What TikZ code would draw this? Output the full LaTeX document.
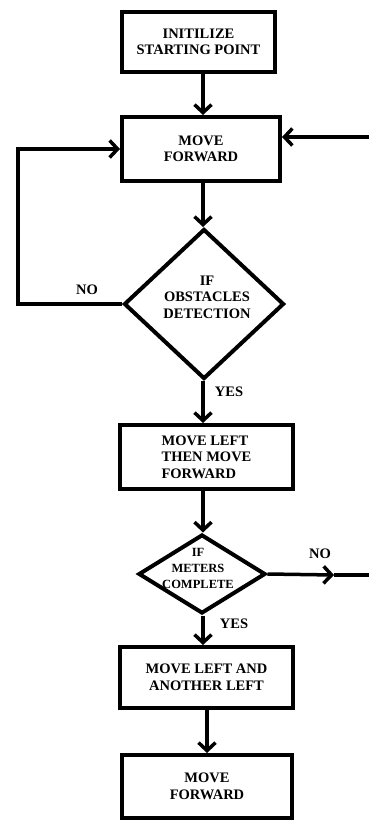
\documentclass[tikz,border=0pt]{standalone}
\usepackage{fontspec}
\setmainfont{Liberation Serif}
\usetikzlibrary{shapes.geometric,arrows.meta}
\tikzstyle{bx}=[draw, rectangle, line width=4pt, inner sep=0pt, align=center, font=\bfseries\fontsize{14.5}{16.5}\selectfont]
\tikzstyle{dc}=[draw, diamond, line width=4pt, inner sep=0pt]
\tikzstyle{tx}=[inner sep=0pt, align=center, font=\bfseries\fontsize{14.5}{16.5}\selectfont]
\tikzstyle{ln}=[line width=3.5pt]
\tikzstyle{ar}=[ln, -{Straight Barb[length=8pt,width=17pt]}]

\begin{document}
\begin{tikzpicture}[x=1pt, y=-1pt]
%%frame
\useasboundingbox (0,0) rectangle (369,821);
\coordinate (col) at (203,0);
%%boxes
\node[bx, minimum width=153, minimum height=60] (init) at (198.5,42) {INITILIZE\\STARTING POINT};
\node[bx, minimum width=158, minimum height=64] (fwd) at (201,149) {MOVE\\FORWARD};
\node[bx, minimum width=173, minimum height=64, align=left] (left) at (206.5,457) {MOVE LEFT\\THEN MOVE\\FORWARD};
\node[bx, minimum width=173, minimum height=61] (twice) at (206.5,677.5) {MOVE LEFT AND\\ANOTHER LEFT};
\node[bx, minimum width=170, minimum height=63] (last) at (207,786.5) {MOVE\\FORWARD};
%%decisions
\node[dc, minimum width=160, minimum height=150] (det) at (204,304) {};
\node[tx] (detT) at (207,297) {IF\\OBSTACLES\\DETECTION};
\node[dc, minimum width=127, minimum height=79] (met) at (202,574) {};
\node[tx, font=\bfseries\fontsize{12.5}{16}\selectfont] (metT) at (198,568) {IF\\METERS\\COMPLETE};
%%labels
\node[tx] (no1) at (87,290) {NO};
\node[tx] (yes1) at (229,392) {YES};
\node[tx] (no2) at (320,554) {NO};
\node[tx] (yes2) at (234,624) {YES};
%%loose ends
\coordinate (lp) at (18,220);
\coordinate (rin) at (369,137);
\coordinate (nx) at (334,575);
\coordinate (rout) at (369,575);
%%arrows
\draw[ar] (init.south -| col) -- (fwd.north -| col);
\draw[ar] (fwd.south -| col) -- (det.north -| col);
\draw[ar] (det.south -| col) -- (left.north -| col);
\draw[ar] (left.south -| col) -- (met.north -| col);
\draw[ar] (met.south -| col) -- (twice.north -| col);
\draw[ar] (twice.south -| last) -- (last.north);
\draw[ar] (det.west) -| (lp) |- (fwd.west);
\draw[ar] (rin) -- (rin -| fwd.east);
\draw[ar] (met.east) -- (nx);
\draw[ln] (nx) -- (rout);
\end{tikzpicture}
\end{document}
